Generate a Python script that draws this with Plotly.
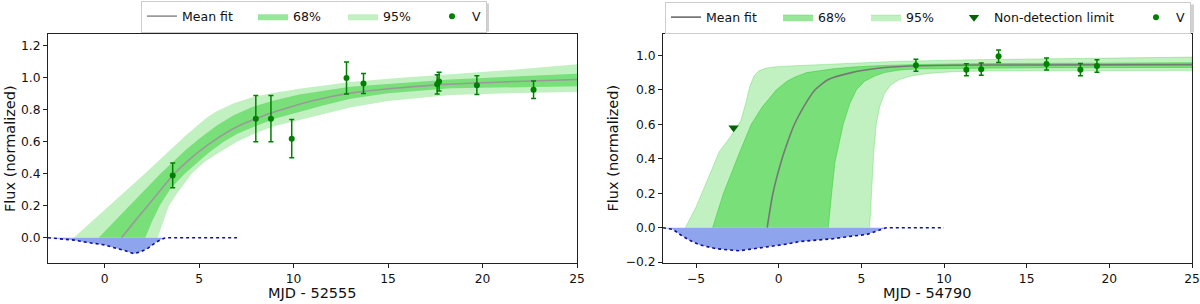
import plotly.graph_objects as go

W, H = 1200, 304

# ---------------- Left panel (MJD - 52555) ----------------
L_mean_x = [0.88, 1.5, 2.2, 3.0, 3.6, 4.3, 5.0, 6.0, 7.0, 8.0, 9.0, 10.0, 11.0, 12.0, 13.0, 15.0, 18.0, 21.0, 25.0]
L_mean_y = [0.0, 0.09, 0.19, 0.305, 0.39, 0.47, 0.54, 0.625, 0.695, 0.745, 0.788, 0.825, 0.857, 0.884, 0.905, 0.932, 0.96, 0.975, 0.99]

L_up68_x = [-0.32, 1.3, 2.95, 4.3, 5.0, 5.9, 6.8, 7.85, 8.9, 10.3, 13.0, 18.3, 25.0]
L_up68_y = [0.0, 0.2, 0.4, 0.55, 0.62, 0.70, 0.765, 0.82, 0.858, 0.897, 0.945, 0.99, 1.027]
L_lo68_x = [2.15, 2.5, 2.91, 3.5, 4.24, 5.0, 5.56, 6.3, 7.0, 8.0, 9.0, 10.3, 11.5, 13.0, 15.0, 18.3, 25.0]
L_lo68_y = [0.0, 0.1, 0.2, 0.31, 0.4, 0.48, 0.536, 0.6, 0.65, 0.7, 0.745, 0.788, 0.826, 0.87, 0.905, 0.935, 0.948]

L_up95_x = [-1.64, 0.26, 2.12, 3.35, 4.2, 5.03, 5.5, 5.91, 6.8, 7.85, 8.9, 10.3, 13.0, 15.5, 18.3, 21.5, 25.0]
L_up95_y = [0.0, 0.2, 0.4, 0.536, 0.63, 0.715, 0.76, 0.79, 0.84, 0.881, 0.906, 0.933, 0.975, 1.0, 1.023, 1.05, 1.086]
L_lo95_x = [2.8, 3.1, 3.4, 3.9, 4.6, 5.3, 6.1, 7.0, 8.0, 9.0, 10.3, 11.5, 13.0, 15.0, 18.3, 21.5, 25.0]
L_lo95_y = [0.0, 0.1, 0.2, 0.29, 0.4, 0.475, 0.536, 0.6, 0.655, 0.7, 0.737, 0.772, 0.815, 0.855, 0.893, 0.905, 0.913]

L_blue_x = [-3.0, -2.2, -1.6, -1.1, -0.6, 0.0, 0.6, 1.0, 1.55, 1.9, 2.3, 2.7, 3.0, 3.25, 4.0, 5.0, 6.0, 7.0]
L_blue_y = [0.0, -0.008, -0.015, -0.026, -0.033, -0.045, -0.066, -0.078, -0.1, -0.088, -0.065, -0.03, -0.01, 0.0, 0.0, 0.0, 0.0, 0.0]

L_V_x = [3.6, 8.0, 8.8, 9.9, 12.8, 13.7, 17.6, 17.7, 19.7, 22.7]
L_V_y = [0.39, 0.745, 0.745, 0.62, 1.0, 0.965, 0.96, 0.977, 0.955, 0.926]
L_V_err = [0.077, 0.145, 0.145, 0.12, 0.1, 0.063, 0.06, 0.058, 0.058, 0.055]

# ---------------- Right panel (MJD - 54790) ----------------
R_mean_x = [-0.7, -0.35, 0.2, 0.55, 0.95, 1.5, 2.2, 3.0, 4.4, 6.0, 8.0, 12.0, 25.0]
R_mean_y = [0.0, 0.2, 0.4, 0.5, 0.6, 0.7, 0.8, 0.86, 0.9, 0.925, 0.938, 0.944, 0.946]

R_up68_x = [-4.0, -3.34, -2.35, -1.66, -1.0, -0.14, 0.5, 1.0, 1.7, 2.5, 3.3, 4.5, 6.0, 8.0, 12.0, 25.0]
R_up68_y = [0.0, 0.2, 0.44, 0.6, 0.7, 0.8, 0.85, 0.875, 0.9, 0.913, 0.922, 0.932, 0.94, 0.946, 0.952, 0.957]
R_lo68_x = [3.0, 3.2, 3.4, 3.6, 3.9, 4.3, 4.7, 5.2, 5.8, 6.4, 7.3, 8.5, 10.0, 15.0, 25.0]
R_lo68_y = [0.0, 0.2, 0.38, 0.47, 0.6, 0.72, 0.8, 0.85, 0.88, 0.9, 0.915, 0.922, 0.926, 0.928, 0.93]

R_up95_x = [-5.65, -5.0, -4.3, -3.6, -2.9, -2.3, -2.0, -1.75, -1.5, -1.2, -0.8, -0.3, 1.0, 3.0, 7.0, 12.0, 18.0, 25.0]
R_up95_y = [0.0, 0.12, 0.28, 0.44, 0.53, 0.62, 0.72, 0.82, 0.88, 0.91, 0.925, 0.933, 0.94, 0.948, 0.965, 0.975, 0.982, 0.99]
R_lo95_x = [5.5, 5.6, 5.75, 5.9, 6.1, 6.4, 6.8, 7.3, 8.0, 9.0, 10.5, 13.0, 18.0, 25.0]
R_lo95_y = [0.0, 0.2, 0.44, 0.6, 0.7, 0.78, 0.83, 0.86, 0.88, 0.895, 0.905, 0.91, 0.912, 0.913]

R_blue_x = [-7.0, -6.4, -5.9, -5.4, -4.8, -3.8, -2.4, -1.4, -0.3, 0.5, 1.3, 2.3, 3.3, 4.5, 5.3, 5.9, 6.5, 7.0, 8.0, 9.0, 10.0]
R_blue_y = [0.0, -0.01, -0.044, -0.073, -0.099, -0.122, -0.134, -0.122, -0.108, -0.095, -0.08, -0.074, -0.064, -0.048, -0.04, -0.021, 0.0, 0.0, 0.0, 0.0, 0.0]

R_V_x = [8.3, 11.35, 12.25, 13.3, 16.2, 18.25, 19.25]
R_V_y = [0.943, 0.917, 0.92, 0.995, 0.95, 0.917, 0.938]
R_V_err = [0.035, 0.035, 0.036, 0.036, 0.035, 0.036, 0.036]

R_lim_x = [-2.73]
R_lim_y = [0.58]

# ---------------- styling ----------------
FONT = "DejaVu Sans"
C95 = "rgba(50,205,50,0.3)"
C68 = "rgba(50,205,50,0.5)"
CV = "#008000"
CBLUE_FILL = "#8ea4ec"
CBLUE_LINE = "#10109a"

fig = go.Figure()


def add_panel(xa, ya, legend, mean_x, mean_y, up68x, up68y, lo68x, lo68y,
              up95x, up95y, lo95x, lo95y, bx, by, vx, vy, verr, mean_col,
              edge, widths, limx=None, limy=None):
    common = dict(xaxis=xa, yaxis=ya, legend=legend)
    fig.add_trace(go.Scatter(
        x=up95x + lo95x[::-1], y=up95y + lo95y[::-1], fill="toself",
        fillcolor=C95, mode="lines",
        line=dict(width=edge, color=C95), name="95%", legendrank=3,
        legendwidth=widths[2], hoverinfo="skip", **common))
    fig.add_trace(go.Scatter(
        x=up68x + lo68x[::-1], y=up68y + lo68y[::-1], fill="toself",
        fillcolor=C68, mode="lines",
        line=dict(width=edge, color=C68), name="68%", legendrank=2,
        legendwidth=widths[1], hoverinfo="skip", **common))
    fig.add_trace(go.Scatter(
        x=mean_x, y=mean_y, mode="lines",
        line=dict(color=mean_col, width=1.6, shape="spline", smoothing=0.6),
        name="Mean fit", legendrank=1, legendwidth=widths[0], **common))
    fig.add_trace(go.Scatter(
        x=bx, y=by, mode="lines", fill="tozeroy", fillcolor=CBLUE_FILL,
        line=dict(color=CBLUE_LINE, width=1.6, dash="dot"),
        showlegend=False, **common))
    if limx is not None:
        fig.add_trace(go.Scatter(
            x=limx, y=limy, mode="markers",
            marker=dict(symbol="triangle-down", size=9, color="#006400"),
            name="Non-detection limit", legendrank=4, legendwidth=widths[3], **common))
    fig.add_trace(go.Scatter(
        x=vx, y=vy, mode="markers",
        marker=dict(color=CV, size=6),
        error_y=dict(type="data", array=verr, color=CV, thickness=1.5, width=2.5),
        name="V", legendrank=5, legendwidth=widths[-1], **common))


add_panel("x", "y", "legend", L_mean_x, L_mean_y, L_up68_x, L_up68_y, L_lo68_x, L_lo68_y,
          L_up95_x, L_up95_y, L_lo95_x, L_lo95_y, L_blue_x, L_blue_y,
          L_V_x, L_V_y, L_V_err, "#9a9a9a", 0, [66, 45, 44, 9])
add_panel("x2", "y2", "legend2", R_mean_x, R_mean_y, R_up68_x, R_up68_y, R_lo68_x, R_lo68_y,
          R_up95_x, R_up95_y, R_lo95_x, R_lo95_y, R_blue_x, R_blue_y,
          R_V_x, R_V_y, R_V_err, "#777777", 1, [67, 43, 43, 137, 9],
          limx=R_lim_x, limy=R_lim_y)


def px_x(p):
    return p / W


def px_y(p):
    return 1 - p / H


axis_common = dict(showline=True, mirror=True, linecolor="#222", linewidth=1,
                   ticks="outside", ticklen=4, tickwidth=1, tickcolor="#222",
                   showgrid=False, zeroline=False, automargin=False,
                   ticklabeloverflow="allow",
                   tickfont=dict(family=FONT, size=12.3, color="#111"))

ydom = [px_y(263), px_y(34)]
fig.update_layout(
    width=W, height=H,
    margin=dict(l=0, r=0, t=0, b=0, autoexpand=False),
    paper_bgcolor="white", plot_bgcolor="white",
    font=dict(family=FONT, size=12.5, color="#111"),
    xaxis=dict(domain=[px_x(48), px_x(577)], range=[-3, 25], anchor="y",
               tickmode="linear", tick0=0, dtick=5, **axis_common),
    yaxis=dict(domain=ydom, range=[-0.158, 1.275], anchor="x",
               tickmode="linear", tick0=0, dtick=0.2, tickformat=".1f", **axis_common),
    xaxis2=dict(domain=[px_x(663), px_x(1192)], range=[-7, 25], anchor="y2",
                tickmode="linear", tick0=0, dtick=5, **axis_common),
    yaxis2=dict(domain=ydom, range=[-0.205, 1.124], anchor="x2",
                tickmode="linear", tick0=0, dtick=0.2, tickformat=".1f", **axis_common),
    legend=dict(x=px_x(141), xanchor="left", y=px_y(0.5), yanchor="top",
                orientation="h", bgcolor="white", bordercolor="#cccccc", borderwidth=1,
                font=dict(family=FONT, size=12.5, color="#111"), traceorder="normal"),
    legend2=dict(x=px_x(665), xanchor="left", y=px_y(1.5), yanchor="top",
                 orientation="h", bgcolor="white", bordercolor="#cccccc", borderwidth=1,
                 font=dict(family=FONT, size=12.5, color="#111"), traceorder="normal"),
    showlegend=True,
)

# soft legend shadows (paper pixels)
for (x0, y0, x1, y1) in [(144, 3.5, 489, 31.5), (668, 4.5, 1194, 32.5)]:
    fig.add_shape(type="rect", xref="paper", yref="paper",
                  x0=px_x(x0), x1=px_x(x1), y0=px_y(y1), y1=px_y(y0),
                  fillcolor="rgba(0,0,0,0.18)", line=dict(width=0), layer="above")

ann_font = dict(family=FONT, size=14.5, color="#111")
fig.add_annotation(text="Flux (normalized)", xref="paper", yref="paper",
                   x=px_x(9.5), y=px_y(148.5), textangle=-90, showarrow=False,
                   xanchor="center", yanchor="middle", font=ann_font)
fig.add_annotation(text="Flux (normalized)", xref="paper", yref="paper",
                   x=px_x(612), y=px_y(148.5), textangle=-90, showarrow=False,
                   xanchor="center", yanchor="middle", font=ann_font)
fig.add_annotation(text="MJD - 52555", xref="paper", yref="paper",
                   x=px_x(312.5), y=px_y(293), showarrow=False,
                   xanchor="center", yanchor="middle", font=ann_font)
fig.add_annotation(text="MJD - 54790", xref="paper", yref="paper",
                   x=px_x(927.5), y=px_y(293), showarrow=False,
                   xanchor="center", yanchor="middle", font=ann_font)

fig.write_html("out.html", config={"displayModeBar": False},
               post_script="document.body.style.margin='0';document.body.style.padding='0';")
